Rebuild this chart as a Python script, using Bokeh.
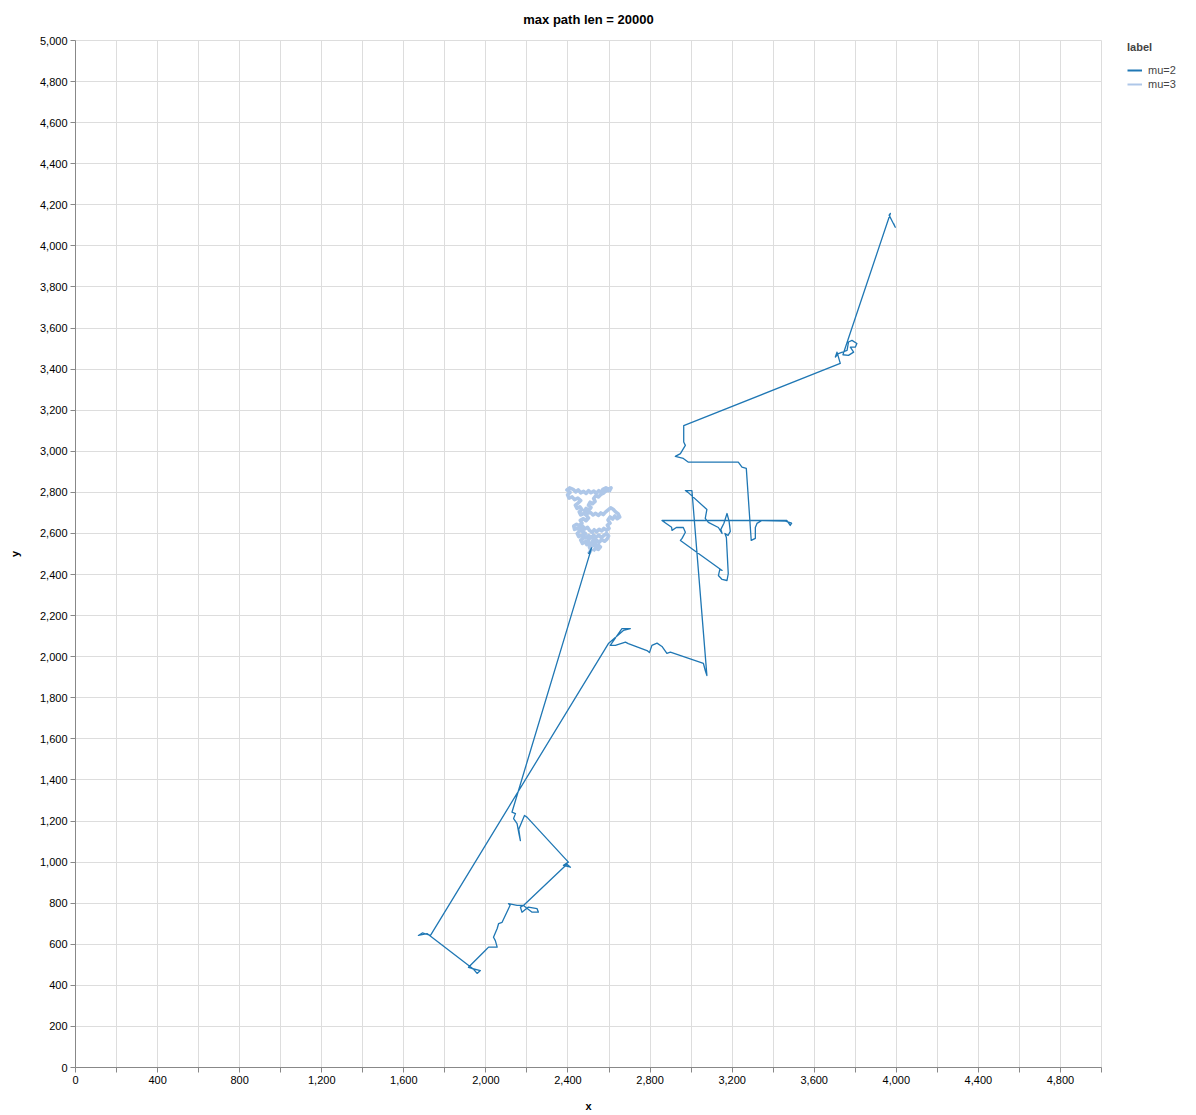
from bokeh.plotting import figure
from bokeh.models import Range1d, FixedTicker, NumeralTickFormatter, Legend, LegendItem
from bokeh.embed import file_html
from bokeh.resources import INLINE

# mu=2 walk
mu2_x = [2500, 2515, 2127, 2144, 2135, 2152, 2160, 2168, 2160, 2188, 2200,
         2402, 2378, 2412, 2395,
         2183, 2168, 2176, 2207, 2249, 2256, 2225, 2183, 2152, 2110, 2118,
         2079, 2062, 2055, 2037, 2046, 2055, 2013, 1997,
         1915, 1932, 1973, 1957, 1940,
         1713, 1671, 1690, 1730,
         2597, 2670, 2704, 2663, 2606, 2631, 2680, 2694, 2785, 2797, 2809, 2834, 2858, 2882, 2899, 3060, 3069, 3077,
         3004, 2972, 2985,
         3077, 3069, 3084, 3133, 3151, 3145, 3160, 3175, 3185, 3191, 3180, 3165, 3172,
         3181, 3175, 3151, 3133, 3140, 3151,
         2948, 2956, 2972, 2962, 2930, 2907, 2905, 2870, 2858,
         3467, 3483, 3490, 3460, 3345, 3321, 3313, 3313, 3293,
         3269, 3248, 3230, 2987, 2962, 2923, 2948, 2972, 2964, 2964,
         3727, 3711, 3703, 3718, 3760, 3767, 3784, 3808, 3800, 3776, 3792, 3767, 3740,
         3971, 3965, 3980, 3995, 3987]
mu2_y = [2500, 2530, 1243, 1236, 1212, 1187, 1144, 1105, 1160, 1227, 1219,
         1000, 984, 975, 990,
         789, 781, 756, 781, 774, 756, 756, 789, 789, 798, 790,
         707, 701, 677, 634, 618, 586, 586, 570,
         488, 482, 472, 458, 478,
         652, 643, 655, 643,
         2064, 2128, 2137, 2137, 2055, 2055, 2071, 2064, 2030, 2020, 2055, 2066, 2050, 2016, 2022, 1967, 1933, 1908,
         2809, 2809, 2800,
         2717, 2673, 2654, 2629, 2600, 2620, 2650, 2697, 2660, 2610, 2590, 2600, 2580,
         2405, 2371, 2376, 2395, 2425, 2420,
         2566, 2576, 2606, 2629, 2630, 2615, 2630, 2655, 2663,
         2663, 2639, 2650, 2660, 2663, 2649, 2629, 2576, 2566,
         2917, 2923, 2947, 2947, 2965, 2975, 2989, 3029, 3045, 3125,
         3428, 3483, 3459, 3476, 3491, 3532, 3540, 3525, 3507, 3507, 3483, 3467, 3470,
         4158, 4150, 4120, 4091, 4109]

# mu=3 walk
mu3_x = [2500, 2512, 2505, 2520, 2508, 2492, 2485, 2470, 2462, 2478,
         2468, 2452, 2445, 2458, 2448, 2432, 2428, 2442, 2455, 2468,
         2460, 2475, 2488, 2500, 2490, 2478, 2462, 2455, 2468, 2458,
         2444, 2436, 2450, 2462, 2448, 2432, 2420, 2405, 2398, 2410,
         2395, 2408, 2425, 2438, 2450, 2462, 2476, 2488, 2500, 2512,
         2526, 2538, 2550, 2562, 2570, 2585, 2598, 2610, 2602, 2588,
         2575, 2560, 2548, 2536, 2525, 2532, 2520, 2508, 2500, 2512,
         2500, 2488, 2482, 2495, 2510, 2522, 2535, 2548, 2560, 2572,
         2584, 2596, 2608, 2620, 2632, 2645, 2652, 2640, 2628, 2618,
         2605, 2595, 2605, 2592, 2600, 2588, 2575, 2565, 2552, 2540,
         2528, 2518, 2505, 2495, 2482, 2472, 2460, 2470, 2485, 2472,
         2488, 2500, 2514, 2525, 2538, 2550, 2562, 2575, 2588, 2598,
         2590, 2578, 2565, 2552, 2540, 2530, 2518, 2528, 2515, 2502,
         2495, 2505, 2520, 2532, 2545, 2558, 2548, 2535, 2522]
mu3_y = [2500, 2518, 2532, 2540, 2552, 2545, 2560, 2552, 2568, 2578,
         2592, 2585, 2600, 2612, 2625, 2620, 2636, 2645, 2638, 2650,
         2664, 2672, 2662, 2675, 2688, 2698, 2690, 2705, 2716, 2730,
         2722, 2738, 2748, 2760, 2772, 2765, 2778, 2772, 2788, 2800,
         2812, 2822, 2815, 2802, 2812, 2798, 2805, 2795, 2808, 2798,
         2806, 2795, 2808, 2800, 2815, 2822, 2815, 2822, 2808, 2810,
         2798, 2790, 2778, 2785, 2770, 2756, 2745, 2752, 2738, 2726,
         2712, 2722, 2708, 2698, 2702, 2690, 2698, 2688, 2700, 2692,
         2705, 2715, 2725, 2718, 2705, 2695, 2680, 2672, 2685, 2670,
         2680, 2665, 2650, 2640, 2625, 2615, 2625, 2612, 2620, 2608,
         2618, 2605, 2615, 2630, 2622, 2635, 2625, 2610, 2600, 2588,
         2578, 2590, 2580, 2592, 2582, 2592, 2580, 2590, 2600, 2588,
         2572, 2562, 2570, 2558, 2566, 2552, 2560, 2572, 2585, 2572,
         2556, 2545, 2550, 2538, 2545, 2535, 2522, 2528, 2515]

labels = ["mu=2", "mu=3"]
colors = ["#1f77b4", "#aec7e8"]
ticks = list(range(0, 5001, 200))

FONT = "Liberation Sans"
NAN = float("nan")

p = figure(output_backend="svg", toolbar_location=None,
           frame_width=1026, frame_height=1027,
           x_range=Range1d(0, 5000), y_range=Range1d(0, 5000),
           min_border_left=75, min_border_top=40, min_border_bottom=30, min_border_right=10,
           title="max path len = 20000")
p.title.align = "center"
p.title.text_font = FONT
p.title.text_font_size = "13px"
p.title.text_font_style = "bold"
p.title.text_color = "#000000"
p.title.standoff = 23
p.title.vertical_align = "top"

r3 = p.line(mu3_x, mu3_y, line_color=colors[1], line_width=3.6, line_join="round")
r2 = p.line(mu2_x, mu2_y, line_color=colors[0], line_width=1.3, line_join="round")
# legend swatches (no visible data)
k2 = p.line([NAN], [NAN], line_color=colors[0], line_width=2)
k3 = p.line([NAN], [NAN], line_color=colors[1], line_width=2)

p.outline_line_color = "#dddddd"
for g in (p.xgrid, p.ygrid):
    g.ticker = FixedTicker(ticks=ticks)
    g.grid_line_color = "#dddddd"
    g.grid_line_width = 1

p.xaxis.ticker = FixedTicker(ticks=ticks)
p.yaxis.ticker = FixedTicker(ticks=ticks)
p.xaxis.formatter = NumeralTickFormatter(format="0,0")
p.yaxis.formatter = NumeralTickFormatter(format="0,0")
over = {}
for t in ticks:
    if t % 400 != 0 or t == 5000:
        over[t] = ""
p.xaxis.major_label_overrides = over
p.xaxis.axis_label = "x"
p.yaxis.axis_label = "y"
for ax in (p.xaxis[0], p.yaxis[0]):
    ax.axis_line_color = "#888888"
    ax.major_tick_line_color = "#888888"
    ax.major_tick_out = 5
    ax.major_tick_in = 0
    ax.minor_tick_line_color = None
    ax.major_label_text_font = FONT
    ax.major_label_text_font_size = "11px"
    ax.major_label_text_color = "#000000"
    ax.axis_label_text_font = FONT
    ax.axis_label_text_font_size = "11px"
    ax.axis_label_text_font_style = "bold"
    ax.axis_label_text_color = "#000000"
    ax.major_label_standoff = 3
p.xaxis[0].axis_label_standoff = 13
p.yaxis[0].axis_label_standoff = 16

legend = Legend(items=[LegendItem(label=labels[0], renderers=[k2]),
                       LegendItem(label=labels[1], renderers=[k3])],
                location=(26, 977), title="label")
legend.title_text_font = FONT
legend.title_text_font_size = "11px"
legend.title_text_font_style = "bold"
legend.label_text_font = FONT
legend.label_text_font_size = "11px"
legend.glyph_width = 15
legend.glyph_height = 10
legend.label_height = 10
legend.spacing = 2
legend.padding = 0
legend.margin = 0
legend.label_standoff = 6
legend.border_line_color = None
legend.background_fill_alpha = 0
legend.title_standoff = 11
legend.label_text_baseline = "middle"
p.add_layout(legend, "right")

open("out.html", "w").write(file_html(p, INLINE))
